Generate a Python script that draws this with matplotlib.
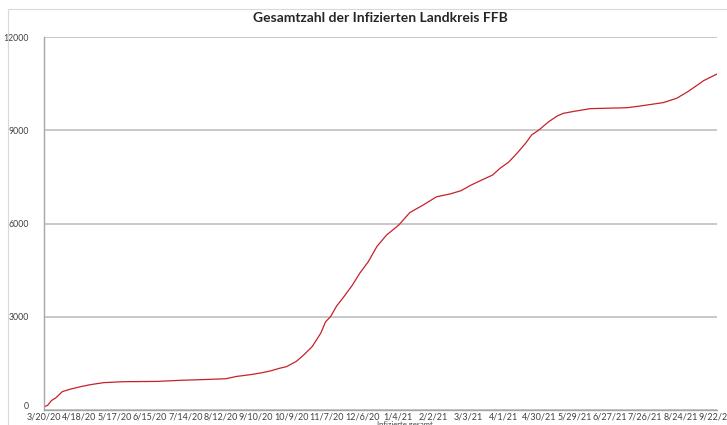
#Imports
import matplotlib
matplotlib.use("Agg")
import matplotlib.pyplot as plt
import matplotlib.transforms as mtransforms
import pandas as pd
import numpy as np

#Data: days since 3/20/20 and total infected
start_date = "2020-03-20"
days = [0, 3, 6, 10, 15, 21, 30, 38, 49, 65, 93, 112, 128, 149, 158, 169, 179, 186,
        193, 199, 207, 213, 220, 227, 231, 235, 240, 246, 253, 259, 266, 273, 281,
        291, 300, 311, 322, 333, 342, 350, 358, 368, 374, 381, 388, 395, 400, 406,
        414, 421, 426, 435, 448, 478, 489, 508, 519, 528, 536, 541, 552]
infected = [100, 150, 300, 400, 590, 665, 750, 815, 880, 910, 920, 955, 975, 1005,
            1080, 1135, 1200, 1260, 1340, 1395, 1565, 1770, 2040, 2470, 2840, 3000,
            3345, 3645, 4020, 4400, 4770, 5255, 5630, 5950, 6350, 6595, 6860, 6950,
            7055, 7230, 7380, 7560, 7775, 7970, 8260, 8580, 8850, 9010, 9275, 9460,
            9545, 9610, 9695, 9725, 9780, 9890, 10030, 10240, 10455, 10595, 10810]
y_ticks = [0, 3000, 6000, 9000, 12000]
tick_step_days = 29

dates = pd.Timestamp(start_date) + pd.to_timedelta(days, unit="D")
tick_dates = pd.date_range(start_date, dates[-1], freq=f"{tick_step_days}D")

plt.rcParams['font.family'] = ['Lato', 'DejaVu Sans']

fig = plt.figure(figsize=(7.27, 4.25), dpi=100)
ax = fig.add_axes([0.0605, 0.0353, 0.9257, 0.8776])

#chart area border
fig.add_artist(plt.Rectangle((8 / 727, -0.1), 1.2, 1 - 9 / 425 + 0.1,
                             transform=fig.transFigure, fill=False,
                             edgecolor="#D9D9D9", linewidth=0.8))

ax.plot(dates, infected, color="#C8202A", linewidth=0.9)

ax.set_ylim(0, 12000)
ax.set_xlim(dates[0], dates[-1])
ax.set_yticks(y_ticks)
ax.set_yticklabels([str(v) for v in y_ticks], fontsize=6.3, color="#404040")
ax.set_xticks(tick_dates)
ax.set_xticklabels([f"{d.month}/{d.day}/{d.strftime('%y')}" for d in tick_dates],
                   fontsize=6.5, color="#404040")
ax.tick_params(axis="both", length=0)
ax.tick_params(axis="y", pad=11)
ax.tick_params(axis="x", pad=2)

#the zero label sits a little above the axis line
zero_label = ax.get_yticklabels()[0]
zero_label.set_transform(zero_label.get_transform() +
                         mtransforms.ScaledTranslation(0, 4 / 100, fig.dpi_scale_trans))

ax.grid(axis="y", color="#BFBFBF", linewidth=1.2)
ax.set_axisbelow(True)
for side in ["top", "right"]:
    ax.spines[side].set_visible(False)
for side in ["left", "bottom"]:
    ax.spines[side].set_color("#A6A6A6")
    ax.spines[side].set_linewidth(1.0)

fig.text(380 / 727, 1 - 18 / 425, "Gesamtzahl der Infizierten Landkreis FFB",
         ha="center", va="center", fontsize=10, fontweight="bold", color="#262626")
fig.text(405 / 727, 1 - 421 / 425, "Infizierte gesamt", ha="center", va="top",
         fontsize=5.5, color="#404040")

fig.savefig("out.png", dpi=100)
